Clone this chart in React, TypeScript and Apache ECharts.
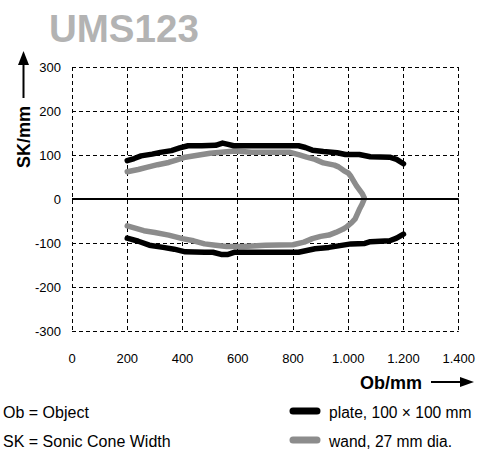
import React, { useEffect, useRef } from "react";
import * as echarts from "echarts";

const titleText = "UMS123";
const xTicks = [0, 200, 400, 600, 800, 1000, 1200, 1400];
const yTicks = [-300, -200, -100, 0, 100, 200, 300];

const plateUpper: [number, number][] = [
  [200, 87], [225, 92], [250, 98], [290, 102], [320, 106], [360, 110], [390, 116], [420, 121],
  [470, 121], [520, 122], [545, 127], [565, 124], [585, 121], [650, 121], [720, 121], [820, 121],
  [845, 117], [870, 111], [910, 108], [960, 105], [990, 101], [1040, 101], [1080, 96], [1150, 95],
  [1175, 90], [1200, 80],
];
const plateLower: [number, number][] = [
  [200, -89], [240, -96], [280, -105], [330, -110], [370, -114], [410, -120], [480, -121],
  [510, -121], [540, -126], [565, -126], [590, -121], [700, -121], [820, -121], [850, -117],
  [880, -113], [930, -110], [970, -106], [1010, -102], [1060, -101], [1080, -97], [1150, -95],
  [1175, -89], [1200, -80],
];
const wandUpper: [number, number][] = [
  [200, 62], [240, 67], [270, 72], [310, 78], [350, 83], [380, 89], [410, 95], [460, 100],
  [500, 104], [540, 106], [590, 109], [650, 106], [700, 106], [790, 106], [820, 101], [850, 95],
  [880, 90], [910, 82], [950, 77], [965, 73], [985, 64], [1000, 59], [1010, 51], [1030, 30],
  [1050, 13], [1058, 3],
];
const wandLower: [number, number][] = [
  [200, -61], [260, -72], [300, -76], [350, -82], [400, -90], [440, -95], [480, -102], [520, -105],
  [560, -108], [620, -108], [700, -105], [800, -104], [840, -98], [870, -90], [900, -85],
  [930, -82], [955, -76], [980, -69], [995, -63], [1012, -54], [1025, -45], [1040, -24],
  [1050, -12], [1058, 0],
];

const legendLeft = ["Ob = Object", "SK = Sonic Cone Width"];
const legendRight = ["plate, 100 × 100 mm", "wand, 27 mm dia."];

const FONT = "Liberation Sans, Arial, Helvetica, sans-serif";
const BLACK = "#000000";
const GRAY = "#8c8c8c";

function fmt(v: number): string {
  const s = String(Math.round(v));
  if (Math.abs(v) >= 1000) {
    return s.replace(/\B(?=(\d{3})+(?!\d))/g, ".");
  }
  return s;
}

export default function App() {
  const ref = useRef<HTMLDivElement>(null);
  useEffect(() => {
    if (!ref.current) return;
    const chart = echarts.init(ref.current, undefined, { renderer: "svg" });
    const dashed = { color: "#000", width: 1, type: [4, 3] as any };
    const lineSeries = (name: string, data: [number, number][], color: string, extra: any = {}) => ({
      type: "line",
      name,
      data,
      showSymbol: false,
      symbol: "none",
      smooth: false,
      z: 3,
      lineStyle: { color, width: 5.5, cap: "round", join: "round" },
      ...extra,
    });
    chart.setOption({
      animation: false,
      backgroundColor: "#ffffff",
      grid: { left: 72, right: 16, top: 67, bottom: 119, containLabel: false },
      xAxis: {
        type: "value",
        min: xTicks[0],
        max: xTicks[xTicks.length - 1],
        interval: 200,
        axisLine: { show: false },
        axisTick: { show: false },
        splitLine: { show: true, lineStyle: dashed },
        axisLabel: {
          margin: 21,
          color: "#000",
          fontSize: 13,
          fontFamily: FONT,
          formatter: (v: number) => fmt(v),
        },
      },
      yAxis: {
        type: "value",
        min: yTicks[0],
        max: yTicks[yTicks.length - 1],
        interval: 100,
        axisLine: { show: false },
        axisTick: { show: false },
        splitLine: { show: true, lineStyle: dashed },
        axisLabel: {
          margin: 11,
          color: "#000",
          fontSize: 13,
          fontFamily: FONT,
          formatter: (v: number) => fmt(v),
        },
      },
      series: [
        lineSeries("wand", wandUpper.concat(wandLower.slice().reverse()), GRAY, {
          markLine: {
            silent: true,
            symbol: "none",
            label: { show: false },
            lineStyle: { color: "#000", width: 2, type: "solid" },
            data: [{ yAxis: 0 }],
          },
        }),
        lineSeries("plate", plateUpper, BLACK),
        lineSeries("plate", plateLower, BLACK),
      ],
      graphic: [
        {
          type: "text",
          left: 49,
          top: 9,
          style: { text: titleText, fill: "#b3b3b3", font: `bold 38.5px ${FONT}` },
        },
        {
          type: "text",
          x: 24,
          y: 137,
          rotation: Math.PI / 2,
          style: {
            text: "SK/mm",
            fill: "#000",
            font: `bold 18px ${FONT}`,
            align: "center",
            verticalAlign: "middle",
          },
        },
        { type: "line", shape: { x1: 23.5, y1: 98, x2: 23.5, y2: 62 }, style: { stroke: "#000", lineWidth: 2 } },
        { type: "polygon", shape: { points: [[18, 65], [29, 65], [23.5, 51]] }, style: { fill: "#000" } },
        {
          type: "text",
          x: 391,
          y: 383,
          style: {
            text: "Ob/mm",
            fill: "#000",
            font: `bold 18px ${FONT}`,
            align: "center",
            verticalAlign: "middle",
          },
        },
        { type: "line", shape: { x1: 431, y1: 382, x2: 462, y2: 382 }, style: { stroke: "#000", lineWidth: 2 } },
        { type: "polygon", shape: { points: [[460, 377], [460, 387], [474, 382]] }, style: { fill: "#000" } },
        {
          type: "text",
          x: 3,
          y: 412,
          style: { text: legendLeft[0], fill: "#000", font: `16px ${FONT}`, verticalAlign: "middle" },
        },
        {
          type: "text",
          x: 3,
          y: 441,
          style: { text: legendLeft[1], fill: "#000", font: `16px ${FONT}`, verticalAlign: "middle" },
        },
        { type: "line", shape: { x1: 293, y1: 411, x2: 317, y2: 411 }, style: { stroke: BLACK, lineWidth: 7, lineCap: "round" } },
        { type: "line", shape: { x1: 293, y1: 440, x2: 317, y2: 440 }, style: { stroke: GRAY, lineWidth: 7, lineCap: "round" } },
        {
          type: "text",
          x: 329,
          y: 412,
          style: { text: legendRight[0], fill: "#000", font: `15.6px ${FONT}`, verticalAlign: "middle" },
        },
        {
          type: "text",
          x: 329,
          y: 441,
          style: { text: legendRight[1], fill: "#000", font: `15.6px ${FONT}`, verticalAlign: "middle" },
        },
      ],
    });
    return () => chart.dispose();
  }, []);
  return (
    <div
      ref={ref}
      style={{ position: "fixed", left: 0, top: 0, width: 478, height: 450, background: "#fff" }}
    />
  );
}
